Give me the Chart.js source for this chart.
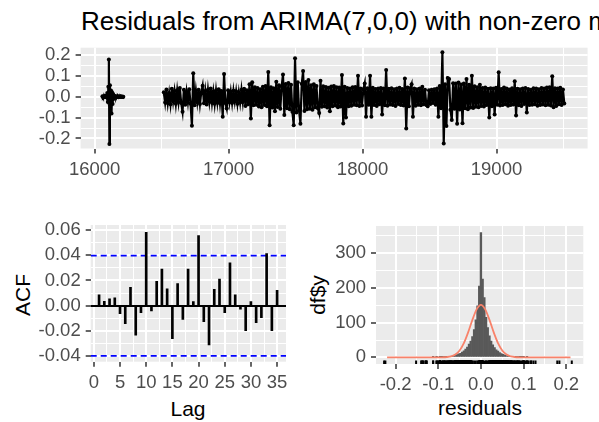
<!DOCTYPE html>
<html>
<head>
<meta charset="UTF-8">
<title>Residuals from ARIMA(7,0,0)</title>
<script src="https://cdn.jsdelivr.net/npm/chart.js"></script>
<style>
  body {
    margin: 0;
    width: 599px;
    height: 422px;
    overflow: hidden;
    position: relative;
    background: #ffffff;
    font-family: 'Liberation Sans', Arial, sans-serif;
  }
  canvas { position: absolute; left: 0; top: 0; }
  .lbl { position: absolute; white-space: nowrap; color: #000; font-size: 21px; line-height: 1; }
  .rot { transform: translate(-50%, -50%) rotate(-90deg); }
  .hc { transform: translateX(-50%); }
</style>
</head>
<body>
<div class="lbl" style="left:81px; top:8px; font-size:26px;">Residuals from ARIMA(7,0,0) with non-zero mean</div>
<div class="lbl rot" style="left:22px; top:295px;">ACF</div>
<div class="lbl hc" style="left:188px; top:398px;">Lag</div>
<div class="lbl rot" style="left:317px; top:295px;">df$y</div>
<div class="lbl hc" style="left:480px; top:397px;">residuals</div>

<canvas id="tsChart" width="599" height="422"></canvas>
<canvas id="acfChart" width="599" height="422"></canvas>
<canvas id="histChart" width="599" height="422"></canvas>

<script>
// ---- residual series (day number) ----
const seg1Start = 16058, seg1Step = 4;
const seg1Val = [
  0.002, -0.003, 0.001, -0.002, 0.003, -0.001, 0.002, 0.005, -0.004, 0.018,
  -0.025, 0.048, 0.179, -0.227, 0.055, -0.041, 0.030, -0.080, 0.022, -0.035,
  0.012, -0.006, 0.004, -0.003, 0.002, -0.002, 0.001, 0.000, -0.001, 0.002,
  -0.002, 0.001, 0.000, -0.001, 0.002, -0.001, 0.000, 0.001, -0.001, 0.000
];
const resStart = 16516, resStep = 10;
const resVal = [
  0.021, -0.028, 0.035, -0.031, 0.018, -0.036, 0.038, -0.022, 0.027, -0.034,
  0.031, -0.025, 0.042, -0.030, -0.072, 0.033, -0.038, 0.024, -0.027, 0.036,
  -0.033, -0.139, 0.112, -0.041, 0.029, -0.026, 0.034, -0.035, 0.022, 0.053,
  -0.031, 0.027, -0.037, 0.033, -0.024, 0.039, -0.029, 0.025, -0.034, 0.030,
  -0.027, 0.036, -0.032, 0.028, -0.096, 0.109, -0.030, -0.056, 0.031, -0.026,
  0.024, -0.030, 0.029, -0.022, 0.026, -0.033, 0.021, -0.028, 0.034, -0.025,
  0.038, -0.044, 0.031, -0.036, 0.060, -0.104, 0.070, -0.041, 0.045, -0.038,
  0.042, -0.047, 0.036, -0.050, 0.048, -0.039, 0.052, -0.045, 0.118, -0.136,
  0.046, -0.052, 0.041, -0.070, 0.072, -0.049, 0.055, -0.058, 0.050, 0.107,
  -0.088, 0.061, -0.055, 0.066, -0.060, 0.058, -0.072, -0.136, 0.184, -0.075,
  0.070, -0.065, -0.130, 0.062, 0.123, -0.068, 0.071, -0.060, 0.080, -0.058,
  0.055, -0.062, 0.060, -0.050, 0.052, -0.055, -0.078, 0.077, -0.048, 0.050,
  -0.045, 0.047, -0.052, 0.043, -0.070, 0.049, -0.046, 0.051, -0.042, 0.045,
  -0.050, 0.044, -0.047, 0.104, -0.128, 0.048, -0.100, 0.042, -0.046, 0.040,
  -0.043, 0.045, -0.038, 0.047, -0.041, 0.100, -0.044, 0.039, -0.042, 0.036,
  0.064, -0.096, 0.041, -0.038, 0.101, -0.096, 0.043, -0.040, 0.037, -0.044,
  0.040, -0.036, 0.042, -0.085, 0.039, -0.041, 0.128, -0.043, 0.038, -0.037,
  0.041, -0.039, 0.036, -0.044, 0.040, -0.035, 0.043, -0.040, 0.037, -0.042,
  0.088, -0.152, 0.044, -0.046, 0.041, 0.060, -0.096, 0.039, -0.043, 0.036,
  -0.038, 0.040, -0.041, 0.048, -0.036, 0.034, -0.039, -0.045, 0.031, -0.035,
  0.033, -0.030, 0.036, -0.038, 0.040, -0.096, 0.052, -0.055, 0.213, -0.224,
  0.060, -0.140, 0.090, 0.085, -0.062, -0.112, 0.065, -0.058, 0.063, -0.130,
  0.068, -0.061, 0.059, -0.127, 0.064, -0.055, 0.085, -0.060, 0.057, -0.052,
  0.100, -0.054, 0.050, -0.048, 0.046, -0.050, 0.058, -0.044, 0.042, -0.047,
  0.044, -0.040, 0.038, -0.100, 0.041, -0.045, 0.039, -0.085, 0.043, -0.038,
  0.117, -0.042, 0.037, -0.040, 0.044, -0.036, 0.040, -0.043, 0.035, -0.039,
  0.041, -0.037, 0.074, -0.090, 0.038, -0.041, 0.036, -0.044, 0.040, -0.035,
  0.042, -0.075, 0.037, -0.040, 0.034, -0.038, 0.041, -0.036, 0.039, -0.043,
  0.036, -0.039, 0.042, -0.037, 0.040, -0.041, 0.044, -0.038, 0.046, -0.042,
  0.098, -0.050, 0.041, -0.044, 0.039, -0.036, 0.043, -0.040, 0.035, -0.032
];
const tsXTicks = [16000, 17000, 18000, 19000];
const tsXMinor = [16500, 17500, 18500, 19500];
const tsYTicks = [-0.2, -0.1, 0, 0.1, 0.2];
const tsYMinor = [-0.15, -0.05, 0.05, 0.15];

// ---- ACF ----
const acfLag = [1, 2, 3, 4, 5, 6, 7, 8, 9, 10, 11, 12, 13, 14, 15, 16, 17, 18,
  19, 20, 21, 22, 23, 24, 25, 26, 27, 28, 29, 30, 31, 32, 33, 34, 35];
const acfVal = [0.0087, 0.0034, 0.0055, 0.0063, -0.0063, -0.0142, 0.0145, -0.0232,
  -0.0055, 0.0580, -0.0040, 0.0192, 0.0290, 0.0134, -0.0260, 0.0176, -0.0108,
  0.0290, 0.0032, 0.0555, -0.0126, -0.0310, 0.0129, 0.0210, -0.0055, 0.0340,
  0.0087, -0.0026, -0.0197, 0.0032, -0.0134, -0.0095, 0.0413, -0.0197, 0.0121];
const acfCI = 0.0396;
const acfXTicks = [0, 5, 10, 15, 20, 25, 30, 35];
const acfXMinor = [2.5, 7.5, 12.5, 17.5, 22.5, 27.5, 32.5];
const acfYTicks = [-0.04, -0.02, 0, 0.02, 0.04, 0.06];
const acfYMinor = [-0.03, -0.01, 0.01, 0.03, 0.05];

// ---- histogram of residuals ----
const histStart = -0.112, histWidth = 0.004;
const histCount = [
  1, 0, 1, 0, 1, 1, 1, 2, 2, 3,
  3, 4, 5, 6, 8, 10, 12, 15, 19, 24,
  30, 38, 47, 60, 80, 108, 148, 205, 359, 225,
  172, 115, 86, 62, 47, 36, 28, 22, 18, 14,
  11, 9, 7, 5, 4, 3, 3, 2, 2, 1,
  1, 1, 1, 2, 0, 1
];
const normX = [-0.22, -0.10, -0.09, -0.08, -0.07, -0.06, -0.05, -0.04, -0.03, -0.02, -0.01, 0,
  0.01, 0.02, 0.03, 0.04, 0.05, 0.06, 0.07, 0.08, 0.09, 0.10, 0.21];
const normY = [0, 0.1, 0.3, 1, 3, 8, 20, 41, 72, 108, 138, 151,
  138, 108, 72, 41, 20, 8, 3, 1, 0.3, 0.1, 0];
const histXTicks = [-0.2, -0.1, 0, 0.1, 0.2];
const histXMinor = [-0.15, -0.05, 0.05, 0.15];
const histYTicks = [0, 100, 200, 300];
const histYMinor = [50, 150, 250, 350];

// ---- shared look (ggplot grey theme) ----
const W = 599, H = 422;
const FONT = "'Liberation Sans', Arial, sans-serif";
const TICK_SIZE = 18.5;
Chart.defaults.font.family = FONT;
Chart.defaults.font.size = TICK_SIZE;
Chart.defaults.animation = false;

const panelBg = {
  id: 'panelBg',
  beforeDraw(chart) {
    const { ctx, chartArea: a } = chart;
    ctx.save();
    ctx.fillStyle = '#EBEBEB';
    ctx.fillRect(a.left, a.top, a.right - a.left, a.bottom - a.top);
    ctx.restore();
  }
};

// one ggplot-like axis: major + minor white grid, ticks only on majors
function axis(a) {
  const isMajor = v => a.major.some(m => Math.abs(m - v) < 1e-9);
  const val = c => (c.tick ? c.tick.value : NaN);
  return {
    type: 'linear', min: a.min, max: a.max, offset: false,
    afterBuildTicks: s => {
      s.ticks = a.major.concat(a.minor).sort((p, q) => p - q).map(v => ({ value: v }));
    },
    afterFit: a.fit,
    border: { display: false },
    grid: {
      offset: false,
      color: c => (a.zero && Math.abs(val(c)) < 1e-9) ? '#000000' : '#FFFFFF',
      lineWidth: c => isMajor(val(c)) ? 2 : 1,
      tickColor: c => isMajor(val(c)) ? '#333333' : 'rgba(0,0,0,0)',
      tickLength: 5,
      tickWidth: 1.5
    },
    ticks: {
      autoSkip: false, maxRotation: 0, color: '#4D4D4D', padding: a.pad,
      font: { family: FONT, size: TICK_SIZE },
      callback: v => isMajor(v) ? a.fmt(v) : ''
    }
  };
}

function panelOptions(box, xa, ya) {
  xa.fit = s => { s.height = H - box.b; };
  ya.fit = s => { s.width = box.l; };
  xa.pad = 5;
  ya.pad = 5;
  return {
    responsive: false,
    devicePixelRatio: 1,
    layout: { padding: { left: 0, top: box.t, right: W - box.r, bottom: 0 } },
    plugins: { legend: { display: false }, tooltip: { enabled: false } },
    scales: { x: axis(xa), y: axis(ya) }
  };
}

// ---- top: residuals over time ----
const seg1 = seg1Val.map((v, i) => ({ x: seg1Start + i * seg1Step, y: v }));
const seg2 = resVal.map((v, i) => ({ x: resStart + i * resStep, y: v }));
const tsStyle = { borderColor: '#000', backgroundColor: '#000', borderWidth: 2.2,
  pointRadius: 2, pointBorderWidth: 0, tension: 0 };

new Chart(document.getElementById('tsChart'), {
  type: 'line',
  data: { datasets: [{ data: seg1, ...tsStyle }, { data: seg2, ...tsStyle }] },
  options: panelOptions({ l: 80.6, t: 47.7, r: 587.6, b: 148.5 },
    { min: 15895, max: 19680, major: tsXTicks, minor: tsXMinor, fmt: v => String(v) },
    { min: -0.248, max: 0.235, major: tsYTicks, minor: tsYMinor, fmt: v => v.toFixed(1) }),
  plugins: [panelBg]
});

// ---- bottom left: ACF ----
const acfXMin = -0.6, acfXMax = 36.7;
const ciLine = y => ({
  type: 'line', data: [{ x: acfXMin, y }, { x: acfXMax, y }],
  borderColor: '#0000FF', borderWidth: 1.6, borderDash: [6, 4], pointRadius: 0
});

new Chart(document.getElementById('acfChart'), {
  type: 'bar',
  data: {
    datasets: [
      { data: acfLag.map((l, i) => ({ x: l, y: acfVal[i] })), backgroundColor: '#000',
        barThickness: 2 },
      ciLine(acfCI),
      ciLine(-acfCI)
    ]
  },
  options: panelOptions({ l: 90.7, t: 225, r: 286, b: 361.7 },
    { min: acfXMin, max: acfXMax, major: acfXTicks, minor: acfXMinor, fmt: v => String(v) },
    { min: -0.0442, max: 0.0638, major: acfYTicks, minor: acfYMinor, fmt: v => v.toFixed(2), zero: true }),
  plugins: [panelBg]
});

// ---- bottom right: histogram with normal curve and rug ----
const histMid = histCount.map((c, i) => histStart + i * histWidth);
const rugY = -14.5;
const rugVals = seg1Val.concat(resVal, histMid.filter((m, i) => histCount[i] > 0));
const rug = rugVals.map(v => ({ x: v, y: rugY }));

new Chart(document.getElementById('histChart'), {
  type: 'bar',
  data: {
    datasets: [
      { type: 'scatter', data: rug, pointStyle: 'line', rotation: 90, pointRadius: 2,
        borderColor: '#000', borderWidth: 2, order: 0 },
      { type: 'line', data: normX.map((x, i) => ({ x, y: normY[i] })), borderColor: '#F8826A',
        borderWidth: 1.8, pointRadius: 0, cubicInterpolationMode: 'monotone', order: 1 },
      { data: histMid.map((m, i) => ({ x: m, y: histCount[i] })),
        backgroundColor: '#595959', barPercentage: 1, categoryPercentage: 1, order: 2 }
    ]
  },
  options: panelOptions({ l: 376, t: 226, r: 583.3, b: 364 },
    { min: -0.246, max: 0.24, major: histXTicks, minor: histXMinor, fmt: v => v.toFixed(1) },
    { min: -19, max: 378, major: histYTicks, minor: histYMinor, fmt: v => String(v) }),
  plugins: [panelBg]
});
</script>
</body>
</html>
